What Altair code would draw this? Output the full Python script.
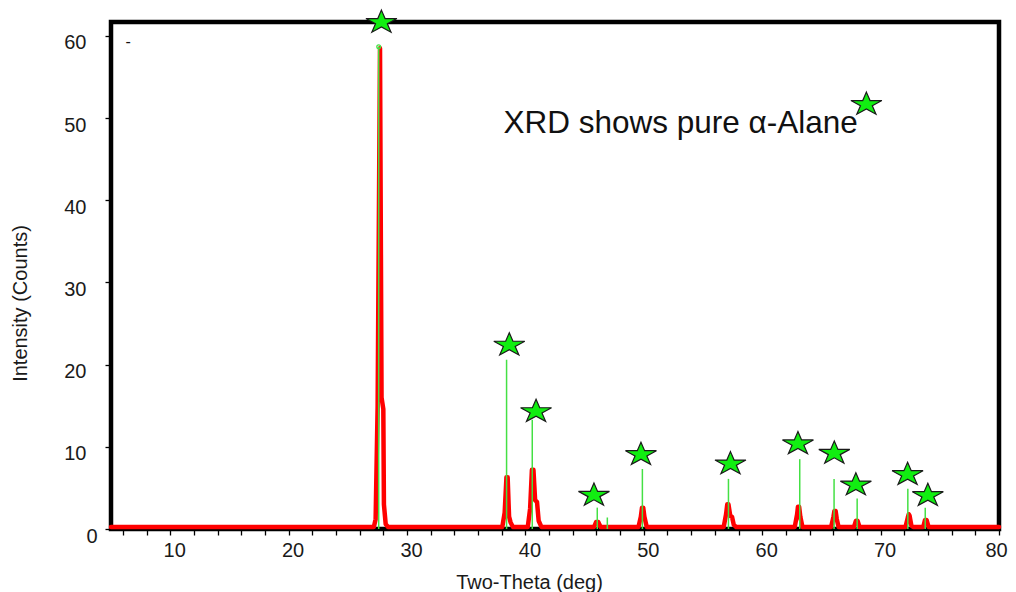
import altair as alt
import pandas as pd

profile_theta = [5.0, 27.2, 27.35, 27.52, 27.72, 27.85, 28.0, 28.05, 28.2, 28.4,
                 38.05, 38.25, 38.4, 38.5, 38.62, 38.75, 38.95,
                 40.2, 40.4, 40.55, 40.68, 40.82, 40.98, 41.12, 41.35,
                 45.8, 45.98, 46.15, 46.35,
                 49.55, 49.75, 49.85, 49.95, 50.05, 50.25,
                 56.75, 56.95, 57.05, 57.15, 57.3, 57.45, 57.6, 57.8,
                 62.75, 62.95, 63.02, 63.12, 63.22, 63.4,
                 65.82, 66.02, 66.1, 66.2, 66.3, 66.45,
                 67.75, 67.92, 68.05, 68.22,
                 72.1, 72.3, 72.38, 72.45, 72.6, 72.75,
                 73.6, 73.75, 73.88, 74.05, 80.0]
profile_counts = [0.25, 0.25, 1.2, 15.0, 58.5, 16.0, 14.6, 3.0, 0.6, 0.25,
                  0.25, 2.0, 6.3, 6.3, 1.5, 0.8, 0.25,
                  0.25, 2.5, 7.2, 7.2, 3.5, 3.3, 1.0, 0.25,
                  0.25, 0.85, 0.85, 0.25,
                  0.25, 1.5, 2.6, 2.6, 1.5, 0.25,
                  0.25, 1.8, 3.0, 3.0, 1.6, 1.5, 0.5, 0.25,
                  0.25, 1.8, 2.7, 2.7, 1.5, 0.25,
                  0.25, 1.5, 2.2, 2.2, 1.2, 0.25,
                  0.25, 1.0, 1.0, 0.25,
                  0.25, 1.4, 1.8, 1.6, 0.4, 0.25,
                  0.25, 1.1, 1.1, 0.25, 0.25]

# Reference pattern sticks (green)
stick_theta = [27.61, 38.41, 40.58, 46.07, 46.92, 49.88, 57.15, 63.17, 66.07, 68.02, 72.30, 73.77]
stick_counts = [58.7, 20.6, 13.3, 2.6, 1.4, 7.3, 6.1, 8.5, 6.1, 3.7, 4.9, 2.6]

# Star markers
star_theta = [27.84, 38.64, 40.90, 45.79, 49.76, 57.32, 63.02, 66.09, 67.91, 72.28, 73.99, 68.80]
star_counts = [61.8, 22.53, 14.44, 4.26, 9.21, 8.07, 10.52, 9.37, 5.51, 6.78, 4.22, 51.82]

# Small open circle at the top of the strongest stick
cap_theta = [27.61]
cap_counts = [58.7]

# Annotations
note_theta = [38.15, 6.45]
note_counts = [48.14, 59.3]
note_text = ["XRD shows pure α-Alane", "-"]

x_ticks = list(range(6, 81, 2))
y_ticks = [0, 10, 20, 30, 40, 50, 60]

FONT = "Liberation Sans"

profile = pd.DataFrame({"theta": profile_theta, "counts": profile_counts})
sticks = pd.DataFrame({"theta": stick_theta, "counts": stick_counts, "base": [0.0] * len(stick_theta)})
stars = pd.DataFrame({"theta": star_theta, "counts": star_counts})
caps = pd.DataFrame({"theta": cap_theta, "counts": cap_counts})
notes = pd.DataFrame({"theta": note_theta[:1], "counts": note_counts[:1], "txt": note_text[:1]})
dash = pd.DataFrame({"theta": note_theta[1:], "counts": note_counts[1:], "txt": note_text[1:]})

x_axis = alt.Axis(
    values=x_ticks,
    labelExpr="datum.value % 10 === 0 ? datum.label : ''",
    title="Two-Theta (deg)", grid=False, domain=False,
    tickSize=6, tickColor="black", tickWidth=1.3,
    labelFont=FONT, labelFontSize=20, labelColor="#1a1a1a",
    labelPadding=5,
    labelOffset={"condition": {"test": "datum.value === 80", "value": -3}, "value": 4},
    labelFlush=False, labelBaseline="top", labelOverlap=False,
    titleFont=FONT, titleFontSize=20, titleFontWeight="normal", titleColor="#1a1a1a",
    titleX=418, titleY=59, titleAlign="center", titleBaseline="alphabetic",
)
y_axis = alt.Axis(
    values=y_ticks, title="Intensity (Counts)", grid=False, domain=False,
    tickSize=6, tickColor="black", tickWidth=1.3,
    labelFont=FONT, labelFontSize=20, labelColor="#1a1a1a",
    labelPadding=19, labelOffset=7, labelFlush=False, labelBaseline="middle",
    labelAlign={"condition": {"test": "datum.value === 0", "value": "left"}, "value": "right"},
    titleFont=FONT, titleFontSize=20, titleFontWeight="normal", titleColor="#1a1a1a",
    titleX=-85, titleY=281, titleAlign="center", titleBaseline="alphabetic",
)

xs = alt.Scale(domain=[5, 80], nice=False, zero=False)
ys = alt.Scale(domain=[0, 61.7], nice=False, zero=False)
X = alt.X("theta:Q", scale=xs, axis=x_axis)
Y = alt.Y("counts:Q", scale=ys, axis=y_axis)

line = alt.Chart(profile).mark_line(
    color="#ff0000", strokeWidth=4.5, strokeJoin="round", strokeCap="round"
).encode(x=X, y=Y)

rules = alt.Chart(sticks).mark_rule(color="#44e044", strokeWidth=1.5).encode(
    x=X, y=Y, y2=alt.Y2("base:Q")
)

cap = alt.Chart(caps).mark_point(
    shape="circle", size=14, filled=False, color="#44e044", strokeWidth=1.3, opacity=1
).encode(x=X, y=Y)

STAR = ("M0,-0.679 L0.2245,-0.160 L0.951,-0.160 L0.363,0.160 L0.588,0.678 "
        "L0,0.358 L-0.588,0.678 L-0.363,0.160 L-0.951,-0.160 L-0.2245,-0.160 Z")
star_layer = alt.Chart(stars).mark_point(
    shape=STAR, size=1060, filled=True, fill="#11ee11", stroke="#1a1a1a",
    strokeWidth=1.2, opacity=1, fillOpacity=1
).encode(x=X, y=Y)

note_layer = alt.Chart(notes).mark_text(
    align="left", baseline="alphabetic", font=FONT, fontSize=31.5, color="#111111"
).encode(x=X, y=Y, text="txt:N")

dash_layer = alt.Chart(dash).mark_text(
    align="center", baseline="middle", font=FONT, fontSize=16, color="#111111"
).encode(x=X, y=Y, text="txt:N")

chart = alt.layer(line, rules, cap, star_layer, note_layer, dash_layer).properties(
    width=888, height=507,
    autosize=alt.AutoSizeParams(type="none"),
    padding={"left": 103, "top": 14, "right": 9, "bottom": 63},
    background="white",
).configure_view(stroke="black", strokeWidth=4.5)

chart.save("out.html", embed_options={"renderer": "svg", "actions": False})
